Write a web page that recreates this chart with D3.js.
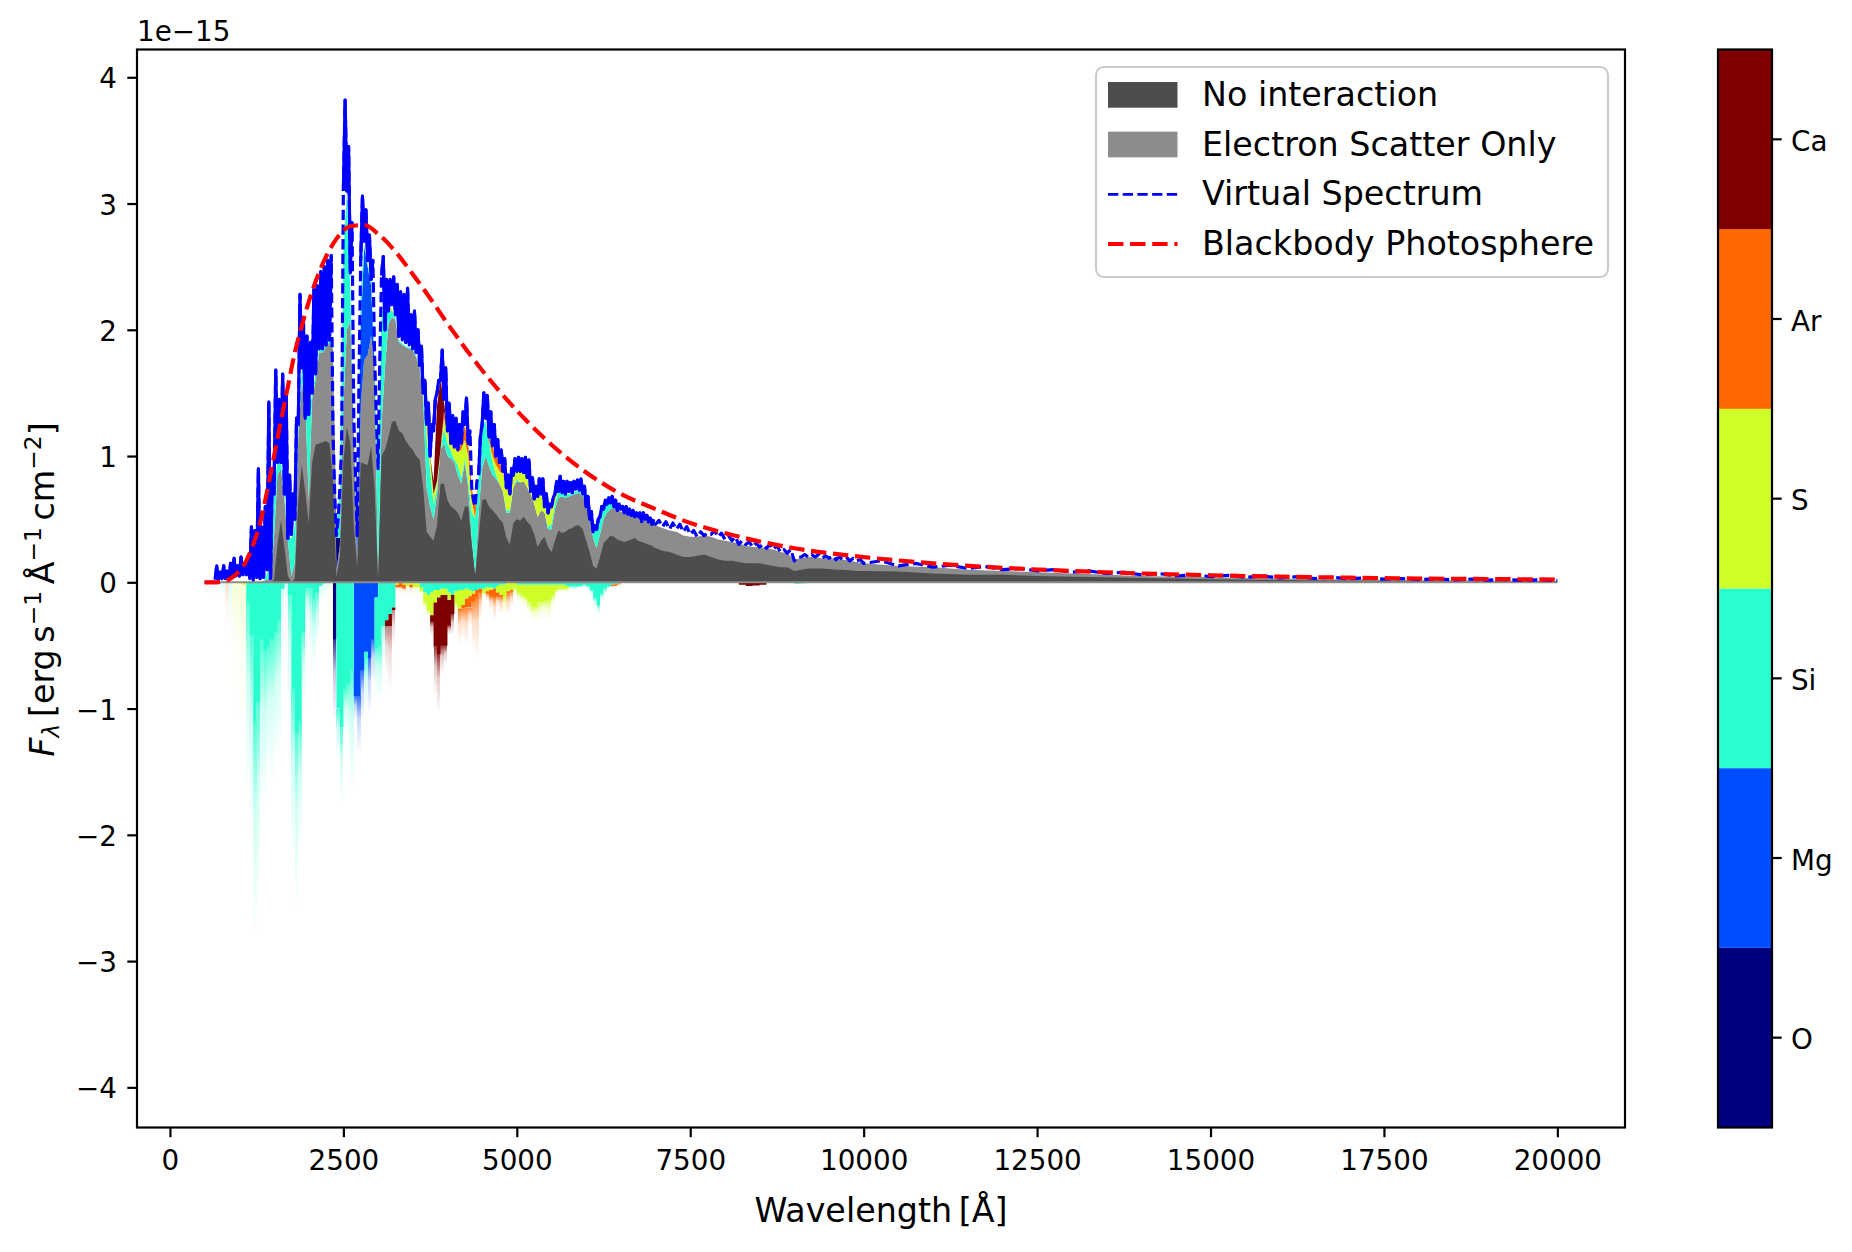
<!DOCTYPE html>
<html>
<head>
<meta charset="utf-8">
<script src="https://cdn.jsdelivr.net/npm/d3@7"></script>
<style>
  body { margin: 0; background: #fff; }
  text { font-family: "DejaVu Sans", sans-serif; fill: #000; }
</style>
</head>
<body>
<div id="graphic"></div>
<script>
// wavelength grid, fine where the spectrum has structure
var wave = d3.range(500, 7000, 50).concat(d3.range(7000, 10000, 100), d3.range(10000, 20001, 500));

// all fluxes in units of 1e-15, one row = ten grid points
var noInteraction = [
  0,0,0,0,0,0,0,0,0,0,
  0,0,0,0,0,0,0,0,0,0,
  .02,.3,.49,.28,.05,0,.03,.65,.93,.72,
  .47,.95,1.09,1.1,1.11,1.12,1.1,.8,.04,.2,
  .95,1.23,1.1,.45,.12,.95,.94,.93,1.08,.75,
  .03,1,1.05,1.15,1.27,1.28,1.2,1.18,1.12,1.08,
  1.05,1,.97,.75,.4,.36,.33,.45,.78,.78,
  .65,.6,.58,.55,.49,.6,.6,.3,.06,.35,
  .65,.66,.6,.57,.54,.5,.47,.35,.3,.47,
  .5,.49,.52,.48,.45,.38,.28,.33,.36,.28,
  .24,.33,.41,.39,.4,.42,.43,.45,.45,.42,
  .33,.24,.13,.11,.2,.31,.34,.37,.36,.34,
  .33,.32,.33,.34,.35,.33,.32,.31,.3,.29,
  .27,.25,.24,.22,.2,.2,.21,.22,.2,.18,
  .17,.17,.16,.15,.15,.15,.14,.13,.12,.12,
  .09,.1,.11,.11,.11,.105,.1,.1,.095,.09,
  .09,.085,.07,.06,.06,.05,.045,.04,.035,.03,.025,.02,.018,.015,.013,.011,.01,.008,.007,.006,.005
];

var electronScatter = [
  0,0,0,0,0,0,0,0,0,0,
  0,0,0,0,0,0,0,.01,.02,.05,
  .35,.85,.9,.65,.33,.05,.15,1.15,1.58,1.45,
  .65,1.45,1.6,1.82,1.82,1.86,1.9,1.85,.1,.3,
  1.4,2,2.07,1.2,.2,1.4,1.76,1.8,1.95,1.7,
  .05,1.25,1.7,2.05,2.1,2.08,1.9,1.88,1.86,1.85,
  1.84,1.78,1.7,1.45,.75,.6,.5,.7,1.05,1.1,
  1,.98,.95,.85,.78,.95,.75,.35,.06,.55,
  .9,1,.92,.85,.82,.78,.72,.55,.55,.75,
  .8,.79,.8,.75,.7,.62,.52,.57,.55,.42,
  .42,.58,.67,.68,.67,.68,.69,.7,.71,.68,
  .62,.55,.35,.27,.38,.5,.55,.58,.59,.57,
  .56,.55,.54,.53,.52,.52,.51,.5,.49,.47,
  .45,.43,.41,.4,.37,.36,.36,.37,.36,.34,
  .33,.32,.31,.29,.28,.28,.27,.26,.24,.23,
  .18,.19,.2,.2,.19,.19,.18,.18,.17,.16,
  .15,.13,.12,.1,.09,.08,.07,.06,.05,.045,.04,.035,.03,.025,.022,.02,.017,.015,.012,.01,.008
];

// the virtual spectrum jitters hard: low value at the grid point, high value half a step on
var virtualLow = [
  0,0,0,.02,.02,.03,.03,.04,.04,.05,
  .05,.06,.06,.03,.02,.04,.03,.04,.1,.03,
  .7,.95,.95,.7,.35,.38,.5,1.25,1.7,1.3,
  1.33,1.5,1.65,1.85,1.85,1.88,1.92,1.2,.37,.75,
  3.1,3.1,2.45,1.3,.37,2.55,2.7,2.55,2.4,1.8,
  .9,2.43,2,2.15,2.2,2.12,1.95,1.92,1.9,1.88,
  1.85,1.82,1.72,1.5,1.25,1,1.2,1.5,1.6,1.45,
  1.2,1.1,1.07,1.05,1.1,1.25,1.1,.75,.6,.85,
  1.25,1.3,1.15,1.08,1,.95,.88,.75,.7,.85,
  .88,.88,.87,.83,.72,.66,.68,.7,.6,.55,
  .6,.7,.72,.71,.7,.72,.71,.74,.73,.7,
  .6,.5,.4,.42,.52,.58,.62,.63,.6,.57,
  .58,.55,.54,.53,.52,.52,.48,.5,.48,.46,
  .46,.44,.42,.42,.4,.38,.36,.37,.38,.36,
  .34,.33,.3,.3,.28,.28,.27,.26,.24,.23,
  .17,.2,.2,.2,.19,.19,.18,.18,.17,.17,
  .15,.13,.12,.11,.1,.09,.08,.07,.06,.05,.045,.04,.035,.03,.028,.025,.022,.02,.018,.016,.014
];
var virtualHigh = [
  0,0,0,.13,.08,.13,.09,.15,.19,.13,
  .2,.15,.2,.44,.41,.9,.44,.6,1.43,.9,
  1.68,1.45,1.65,1.5,.85,.7,1.3,2.28,2.05,1.95,
  1.9,2.32,2.35,2.46,2.5,2.55,2.59,.7,.5,1.1,
  3.82,3.45,2.85,.85,1.6,3.06,2.95,2.75,2.55,1.3,
  1.75,2.58,2.4,2.4,2.42,2.36,2.3,2.28,2.33,2.12,
  2.15,2,1.87,1.6,1.42,1.25,1.45,1.6,1.84,1.7,
  1.42,1.32,1.3,1.25,1.35,1.46,1.2,.65,.8,1.15,
  1.5,1.48,1.35,1.25,1.13,1.05,.98,.85,.9,.98,
  .99,.98,.99,.97,.83,.76,.82,.82,.7,.62,
  .67,.8,.84,.8,.8,.79,.8,.81,.82,.76,
  .68,.56,.45,.5,.6,.65,.67,.68,.65,.62,
  .6,.6,.58,.57,.55,.55,.55,.53,.51,.5,
  .49,.48,.47,.46,.44,.41,.4,.39,.41,.39,
  .37,.36,.33,.32,.31,.3,.3,.29,.26,.26,
  .2,.22,.22,.22,.21,.21,.2,.2,.19,.18,
  .17,.15,.135,.125,.11,.1,.09,.08,.07,.06,.055,.05,.045,.04,.035,.03,.027,.025,.022,.02,.018
];

var blackbodyWave = [500,600,700,800,900,1000,1100,1200,1300,1400,1500,1600,1700,1800,1900,2000,2200,2400,2600,2800,3000,3250,3500,3750,4000,4500,5000,5500,6000,6500,7000,7500,8000,9000,10000,11000,12000,13000,14000,15000,16000,17000,18000,19000,20000];
var blackbody = [0,0,.002,.01,.04,.09,.17,.3,.47,.72,1,1.28,1.55,1.82,2.03,2.22,2.52,2.72,2.82,2.83,2.76,2.62,2.44,2.25,2.05,1.68,1.36,1.09,.87,.7,.58,.47,.39,.27,.2,.15,.115,.09,.07,.056,.045,.037,.03,.026,.022];

// emission by element on top of the electron scatter curve (missing tail = 0)
var emitO = [
  0,0,0,0,0,0,0,0,0,0, 0,0,0,0,0,0,0,0,0,0, 0,0,0,0,0,0,0,0,0,0,
  0,0,0,0,0,0,0,0,.25,.05
];
var emitMg = [
  0,0,0,0,0,0,0,0,0,0, 0,0,0,0,0,0,0,0,0,0, 0,0,0,0,0,0,0,0,0,0, 0,0,0,0,0,0,0,0,0,0,
  0,0,0,0,.15,.6,.9,.7,.4,0
];
var emitSi = [
  0,0,0,0,0,0,0,0,0,0,
  0,0,0,0,0,0,0,0,.05,.1,
  .4,.1,.05,.05,.02,.3,.3,.1,.1,.3,
  .68,.05,.05,.03,.03,.02,.02,.01,.05,.4,
  1.2,1.1,.25,0,0,.3,.02,.02,.05,.05,
  .8,.9,.45,.1,.05,.02,.02,.01,.01,.01,
  .01,.01,.01,.03,.4,.3,.12,.05,0,.12,
  .1,.06,.02,.08,.05,.03,.05,.2,.45,.3,
  .33,.28,.2,.1,.03,0,0,.02,.02,0,
  .02,0,0,0,0,0,0,0,0,.02,
  .04,.05,.05,.03,.03,.02,.02,.02,.02,.02,
  .02,.02,.05,.15,.14,.08,.07,.05,.01,.01
];
var emitS = [
  0,0,0,0,0,0,0,0,0,0, 0,0,0,0,0,0,0,0,0,0, 0,0,0,0,0,0,0,0,0,0,
  0,0,0,0,0,0,0,0,0,0, 0,0,0,0,0,0,0,0,0,0,
  0,0,0,.02,.02,0,0,0,0,0,
  0,0,0,0,.1,.1,.08,.05,0,.08,
  .1,.06,.1,.1,.22,.15,.2,.1,0,0,
  0,0,0,.05,.08,.1,.14,.16,.13,.1,
  .06,.09,.07,.08,.02,.04,.16,.13,.05,.11,
  .14,.07
];
var emitAr = [
  0,0,0,0,0,0,0,0,0,0, 0,0,0,0,0,0,0,0,0,0, 0,0,0,0,0,0,0,0,0,0,
  0,0,0,0,0,0,0,0,0,0, 0,0,0,0,0,0,0,0,0,0, 0,0,0,0,0,0,0,0,0,0,
  0,0,0,0,0,0,0,0,0,.05,
  .02,0,0,.02,.05,.12,.1,.1,.09,0,
  0,0,.03,.08,.07,.07,.02,.02
];
var emitCa = [
  0,0,0,0,0,0,0,0,0,0, 0,0,0,0,0,0,0,0,0,0, 0,0,0,0,0,0,0,0,0,0,
  0,0,0,0,0,0,0,0,0,0, 0,0,0,0,0,0,0,0,0,0, 0,0,0,0,0,0,0,0,0,0,
  0,0,0,0,0,0,.1,.6,.55,.08
];

// absorption by element, stacked downward from zero
var absorbO = [
  0,0,0,0,0,0,0,0,0,0, 0,0,0,0,0,0,0,0,0,0, 0,0,0,0,0,0,0,0,0,0,
  0,0,0,0,0,0,0,.45
];
var absorbMg = [
  0,0,0,0,0,0,0,0,0,0, 0,0,0,0,0,0,0,0,0,0, 0,0,0,0,0,0,0,0,0,0, 0,0,0,0,0,0,0,0,0,0,
  0,0,0,.9,.9,.7,.55,.6,.45,.12
];
var absorbSi = [
  0,0,0,0,0,0,0,0,0,0,
  0,0,.15,.42,1.1,.95,.45,.55,.5,.45,
  .4,.3,.05,.01,.1,.85,1.2,1.1,.4,.05,
  .05,.12,.08,.03,.01,.005,0,0,1,1.15,
  .85,.8,.7,0,0,0,.05,0,0,.4,
  .5,.35,.3,.25,.2,0,0,0,0,0,
  0,.01,.04,.08,.1,.08,.06,.06,.05,.05,
  .08,.1,.07,.06,.06,.05,.06,.07,.06,.05,
  .05,.04,.04,.05,.03,.02,.02,0,0,0,
  .02,.02,.02,.02,.02,.02,.02,.02,.02,.02,
  .02,.02,.02,.02,.03,.03,.03,.03,.03,.02,
  .03,.06,.12,.18,.09,.05,.03,.02,.015,.01,
  0,0,0,0,0,0,0,0,0,0,
  0,0,0,0,0,0,0,0,0,0, 0,0,0,0,0,0,0,0,0,0,
  .012,.008
];
var absorbS = [
  0,0,0,0,0,0,0,0,.002,.005,
  .01,.02,0,0,0,0,0,0,0,0,
  0,0,0,0,0,0,0,0,0,0,
  0,0,0,0,0,0,.005,0,0,0,
  0,0,0,0,0,0,0,0,0,0,
  0,0,0,0,0,.02,0,.02,.03,.02,
  .04,.03,.03,.08,.12,.18,.1,.06,.05,.05,
  .06,0,.1,.15,.12,.08,.05,.02,0,0,
  .03,.03,.02,0,.05,.08,.1,.07,.06,.04,
  .06,.08,.1,.14,.18,.17,.14,.13,.12,.12,
  .08,.04,.03,.03,.02
];
var absorbAr = [
  0,0,0,0,0,0,.002,0,0,0,
  0,0,0,0,0,0,0,0,0,0,
  0,0,0,0,0,0,0,0,0,0,
  0,0,0,0,0,0,0,0,0,0,
  0,0,0,0,0,0,0,0,0,0,
  0,0,0,0,0,.02,.04,.03,0,.02,
  0,0,0,0,0,0,0,0,0,0,
  0,0,0,.01,.03,.07,.09,.06,.06,.03,
  0,.02,.05,.07,.03,.01,0,.02,.01,0,
  0,0,0,0,0,0,0,0,0,0,
  0,0,0,0,0,0,0,0,0,0,
  0,0,0,0,0,0,0,.005,.01,.005
];
var absorbCa = [
  0,0,0,0,0,0,0,0,0,0, 0,0,0,0,0,0,0,0,0,0, 0,0,0,0,0,0,0,0,0,0, 0,0,0,0,0,0,0,0,0,0, 0,0,0,0,0,0,0,0,0,0,
  0,0,.05,.1,.02,0,0,0,0,0,
  0,0,0,0,0,.05,.35,.45,.4,.4,
  .2,.15,0,0,0,0,0,0,0,0,
  0,0,0,0,0,0,0,0,0,0, 0,0,0,0,0,0,0,0,0,0, 0,0,0,0,0,0,0,0,0,0, 0,0,0,0,0,0,0,0,0,0,
  0,0,0,0,0,0,0,0,0,0,
  0,0,0,0,0,0,0,0,0,0,
  0,0,.02,.03,.025,.02
];
// how deep the faded tips of the absorption reach
var absorbTip = [
  0,0,0,.1,.1,.15,.4,.5,.8,1,
  1.2,1.4,1.7,2,2.82,2.5,1.8,1.75,1.5,1.6,
  1.4,1.35,.6,.3,1,2.2,2.6,2.1,1,.3,
  .55,.7,.5,.2,.2,.1,.08,1.1,1.4,1.75,
  1.2,1.3,1.65,1.1,1.35,1.1,1,1.05,.8,.9,
  .95,.7,.75,.85,.5,.1,.12,.1,.08,.12,
  .13,.1,.12,.22,.28,.42,.9,1.03,.72,.65,
  .42,.42,.25,.5,.45,.5,.35,.55,.6,.3,
  .12,.15,.22,.3,.2,.25,.25,.25,.2,.12,
  .15,.18,.2,.25,.3,.3,.32,.27,.3,.33,
  .2,.1,.08,.08,.08,.06,.06,.05,.04,.04,
  .05,.1,.2,.26,.15,.1,.05,.04,.03,.02
];

var elements = ["O", "Mg", "Si", "S", "Ar", "Ca"];
var elementColors = ["#00007f", "#004cff", "#29ffce", "#ceff29", "#ff6800", "#7f0000"];
var emission = { O: emitO, Mg: emitMg, Si: emitSi, S: emitS, Ar: emitAr, Ca: emitCa };
var absorption = { O: absorbO, Mg: absorbMg, Si: absorbSi, S: absorbS, Ar: absorbAr, Ca: absorbCa };

var xTicks = [0, 2500, 5000, 7500, 10000, 12500, 15000, 17500, 20000];
var yTicks = [-4, -3, -2, -1, 0, 1, 2, 3, 4];

var svg = d3.select("#graphic")
    .append("svg")
    .attr("width", 1852)
    .attr("height", 1252);

var plot = { left: 137, right: 1625, top: 49.5, bottom: 1127.5 };
var bar = { left: 1718, right: 1772 };
var tickSize = 9.7;
var spineWidth = 2.2;

// wavelength ranges where the absorption tips look washed out, with their strength
var softBands = [[500, 1090, .25], [1600, 1680, .25], [2150, 2340, .25], [3050, 3230, .6], [3250, 3600, .25]];
// wavelength ranges where the virtual spectrum drops steeply and its dashes stay visible
var dashedDrops = [[2350, 2475], [2650, 2725], [2950, 3040], [4350, 4425], [7000, 20000]];

var x = d3.scaleLinear().domain([-475, 20975]).range([plot.left, plot.right]);
var y = d3.scaleLinear().domain([-4.318, 4.22]).range([plot.bottom, plot.top]);
var barScale = d3.scaleBand().domain(elements.slice().reverse()).range([plot.top, plot.bottom]);
var color = d3.scaleOrdinal().domain(elements).range(elementColors);

var defs = svg.append("defs");
defs.append("clipPath").attr("id", "plot-clip").append("rect")
    .attr("x", plot.left).attr("y", plot.top)
    .attr("width", plot.right - plot.left).attr("height", plot.bottom - plot.top);

elements.forEach(function(el) {
    var grad = defs.append("linearGradient").attr("id", "fade-" + el)
        .attr("x1", 0).attr("y1", 0).attr("x2", 0).attr("y2", 1);
    grad.append("stop").attr("offset", 0).attr("stop-color", color(el)).attr("stop-opacity", .8);
    grad.append("stop").attr("offset", .4).attr("stop-color", color(el)).attr("stop-opacity", .22);
    grad.append("stop").attr("offset", 1).attr("stop-color", color(el)).attr("stop-opacity", 0);
});

var g = svg.append("g").attr("clip-path", "url(#plot-clip)");

// one row per grid point, for the stacks
var rows = wave.map(function(w, i) { return { w: w, i: i }; });

function stackOf(table) {
    return d3.stack().keys(elements)
        .value(function(d, key) { return table[key][d.i] || 0; })(rows);
}

// negative side first
var downStack = stackOf(absorption);

function softness(w) {
    var s = 1;
    softBands.forEach(function(b) { if (w >= b[0] && w <= b[1]) s = b[2]; });
    return s;
}

rows.forEach(function(d) {
    var tip = absorbTip[d.i] || 0;
    if (tip === 0) return;
    var solid = 0;
    var last = "Si";
    elements.forEach(function(el) {
        var v = absorption[el][d.i] || 0;
        solid += v;
        if (v > 0) last = el;
    });
    if (tip <= solid) return;
    var next = wave[d.i + 1];
    g.append("rect")
        .attr("x", x(d.w))
        .attr("y", y(-solid))
        .attr("width", x(next) - x(d.w))
        .attr("height", y(-tip) - y(-solid))
        .attr("fill", "url(#fade-" + last + ")")
        .attr("opacity", softness(d.w))
        .attr("shape-rendering", "crispEdges");
});

var downArea = d3.area()
    .curve(d3.curveStepAfter)
    .x(function(d) { return x(d.data.w); })
    .y0(function(d) { return y(-d[0]); })
    .y1(function(d) { return y(-d[1]); });

g.selectAll(".absorb")
    .data(downStack)
    .enter().append("path")
    .attr("class", "absorb")
    .attr("fill", function(d) { return color(d.key); })
    .attr("d", downArea);

// dark and grey areas
function fluxArea(values) {
    return d3.area()
        .x(function(d) { return x(d.w); })
        .y0(y(0))
        .y1(function(d) { return y(values[d.i]); })(rows);
}

g.append("path").attr("fill", "#8c8c8c").attr("d", fluxArea(electronScatter));

// emission sits on the electron scatter curve
var upStack = stackOf(emission);
var upArea = d3.area()
    .x(function(d) { return x(d.data.w); })
    .y0(function(d) { return y(electronScatter[d.data.i] + d[0]); })
    .y1(function(d) { return y(electronScatter[d.data.i] + d[1]); });

g.selectAll(".emit")
    .data(upStack)
    .enter().append("path")
    .attr("class", "emit")
    .attr("fill", function(d) { return color(d.key); })
    .attr("d", upArea);

g.append("path").attr("fill", "#4d4d4d").attr("d", fluxArea(noInteraction));

// thin grey edge along zero
g.append("path")
    .attr("fill", "none")
    .attr("stroke", "#8c8c8c")
    .attr("stroke-width", 2)
    .attr("d", d3.line().x(function(d) { return x(d); }).y(y(0))([500, 20000]));

// virtual spectrum: dashed everywhere, and where it jitters the dashes merge into a solid band
var virtualPoints = [];
wave.forEach(function(w, i) {
    virtualPoints.push({ w: w, v: virtualLow[i], w0: w });
    if (i < wave.length - 1) virtualPoints.push({ w: (w + wave[i + 1]) / 2, v: virtualHigh[i], w0: w });
});

function isDashedOnly(w) {
    return dashedDrops.some(function(b) { return w >= b[0] && w <= b[1]; });
}

var lineGen = d3.line()
    .x(function(d) { return x(d.w); })
    .y(function(d) { return y(d.v); });

g.append("path")
    .attr("fill", "none")
    .attr("stroke", "#0000ff")
    .attr("stroke-width", 3.2)
    .attr("stroke-linejoin", "round")
    .attr("stroke-dasharray", "10.3,4.4")
    .attr("d", lineGen(virtualPoints));

g.append("path")
    .attr("fill", "none")
    .attr("stroke", "#0000ff")
    .attr("stroke-width", 3.2)
    .attr("stroke-linejoin", "round")
    .attr("d", lineGen.defined(function(d) { return d.w0 >= 650 && !isDashedOnly(d.w0); })(virtualPoints));

// blackbody
g.append("path")
    .attr("fill", "none")
    .attr("stroke", "#ff0000")
    .attr("stroke-width", 4.17)
    .attr("stroke-dasharray", "15.4,6.7")
    .attr("d", d3.line()
        .curve(d3.curveMonotoneX)
        .x(function(d, i) { return x(blackbodyWave[i]); })
        .y(function(d) { return y(d); })(blackbody));

// axes
function styleAxis(sel) {
    sel.selectAll("line").attr("stroke", "#000").attr("stroke-width", spineWidth);
    sel.selectAll("text").attr("font-size", 27.78);
    sel.select(".domain").remove();
}

var xAxis = svg.append("g")
    .attr("transform", "translate(0," + plot.bottom + ")")
    .call(d3.axisBottom(x).tickValues(xTicks).tickFormat(d3.format("d")).tickSize(tickSize).tickSizeOuter(0))
    .call(styleAxis);
xAxis.selectAll("text").attr("y", 42.5).attr("dy", 0);

var yAxis = svg.append("g")
    .attr("transform", "translate(" + plot.left + ",0)")
    .call(d3.axisLeft(y).tickValues(yTicks).tickFormat(d3.format("d")).tickSize(tickSize).tickSizeOuter(0))
    .call(styleAxis);
yAxis.selectAll("text").attr("x", -20).attr("dy", ".38em");

svg.append("rect")
    .attr("x", plot.left).attr("y", plot.top)
    .attr("width", plot.right - plot.left).attr("height", plot.bottom - plot.top)
    .attr("fill", "none").attr("stroke", "#000").attr("stroke-width", spineWidth);

svg.append("text").attr("x", 137).attr("y", 41).attr("font-size", 27.78).text("1e\u221215");

// axis titles
svg.append("text")
    .attr("x", (plot.left + plot.right) / 2)
    .attr("y", 1221.5)
    .attr("text-anchor", "middle")
    .attr("font-size", 33.33)
    .text("Wavelength\u2009[\u00c5]");

var yTitle = svg.append("text")
    .attr("transform", "translate(54,589.5) rotate(-90)")
    .attr("text-anchor", "middle")
    .attr("font-size", 33.33);
yTitle.append("tspan").attr("font-style", "italic").text("F");
yTitle.append("tspan").attr("font-style", "italic").attr("font-size", 23.3).attr("dy", 5).text("\u03bb");
yTitle.append("tspan").attr("dy", -5).text("\u2009[erg\u2009s");
yTitle.append("tspan").attr("font-size", 23.3).attr("dy", -13).text("\u22121");
yTitle.append("tspan").attr("dy", 13).text("\u2009\u00c5");
yTitle.append("tspan").attr("font-size", 23.3).attr("dy", -13).text("\u22121");
yTitle.append("tspan").attr("dy", 13).text("\u2009cm");
yTitle.append("tspan").attr("font-size", 23.3).attr("dy", -13).text("\u22122");
yTitle.append("tspan").attr("dy", 13).text("]");

// legend
svg.append("rect")
    .attr("x", 1096).attr("y", 67).attr("width", 512).attr("height", 210).attr("rx", 8)
    .attr("fill", "#fff").attr("fill-opacity", .8)
    .attr("stroke", "#ccc").attr("stroke-width", 2.2);

var legendNames = ["No interaction", "Electron Scatter Only", "Virtual Spectrum", "Blackbody Photosphere"];
var legendRow = d3.scalePoint().domain(legendNames).range([106, 255]);

svg.selectAll(".legend-label")
    .data(legendNames)
    .enter().append("text")
    .attr("class", "legend-label")
    .attr("x", 1202)
    .attr("y", function(d) { return legendRow(d); })
    .attr("font-size", 33.33)
    .text(function(d) { return d; });

svg.append("rect").attr("x", 1108).attr("y", legendRow(legendNames[0]) - 24).attr("width", 69.5).attr("height", 25.7).attr("fill", "#4d4d4d");
svg.append("rect").attr("x", 1108).attr("y", legendRow(legendNames[1]) - 24).attr("width", 69.5).attr("height", 25.7).attr("fill", "#8c8c8c");
svg.append("line").attr("x1", 1108).attr("x2", 1177.5)
    .attr("y1", legendRow(legendNames[2]) - 11).attr("y2", legendRow(legendNames[2]) - 11)
    .attr("stroke", "#0000ff").attr("stroke-width", 2.78).attr("stroke-dasharray", "10.3,4.4");
svg.append("line").attr("x1", 1108).attr("x2", 1177.5)
    .attr("y1", legendRow(legendNames[3]) - 11).attr("y2", legendRow(legendNames[3]) - 11)
    .attr("stroke", "#ff0000").attr("stroke-width", 4.17).attr("stroke-dasharray", "15.4,6.7");

// colour bar
svg.selectAll(".swatch")
    .data(elements)
    .enter().append("rect")
    .attr("class", "swatch")
    .attr("x", bar.left)
    .attr("y", function(d) { return barScale(d); })
    .attr("width", bar.right - bar.left)
    .attr("height", barScale.bandwidth())
    .attr("fill", function(d) { return color(d); });

svg.append("rect")
    .attr("x", bar.left).attr("y", plot.top)
    .attr("width", bar.right - bar.left).attr("height", plot.bottom - plot.top)
    .attr("fill", "none").attr("stroke", "#000").attr("stroke-width", spineWidth);

var barAxis = svg.append("g")
    .attr("transform", "translate(" + bar.right + ",0)")
    .call(d3.axisRight(barScale).tickSize(tickSize).tickSizeOuter(0))
    .call(styleAxis);
barAxis.selectAll("text").attr("x", 19).attr("dy", ".42em");
</script>
</body>
</html>
